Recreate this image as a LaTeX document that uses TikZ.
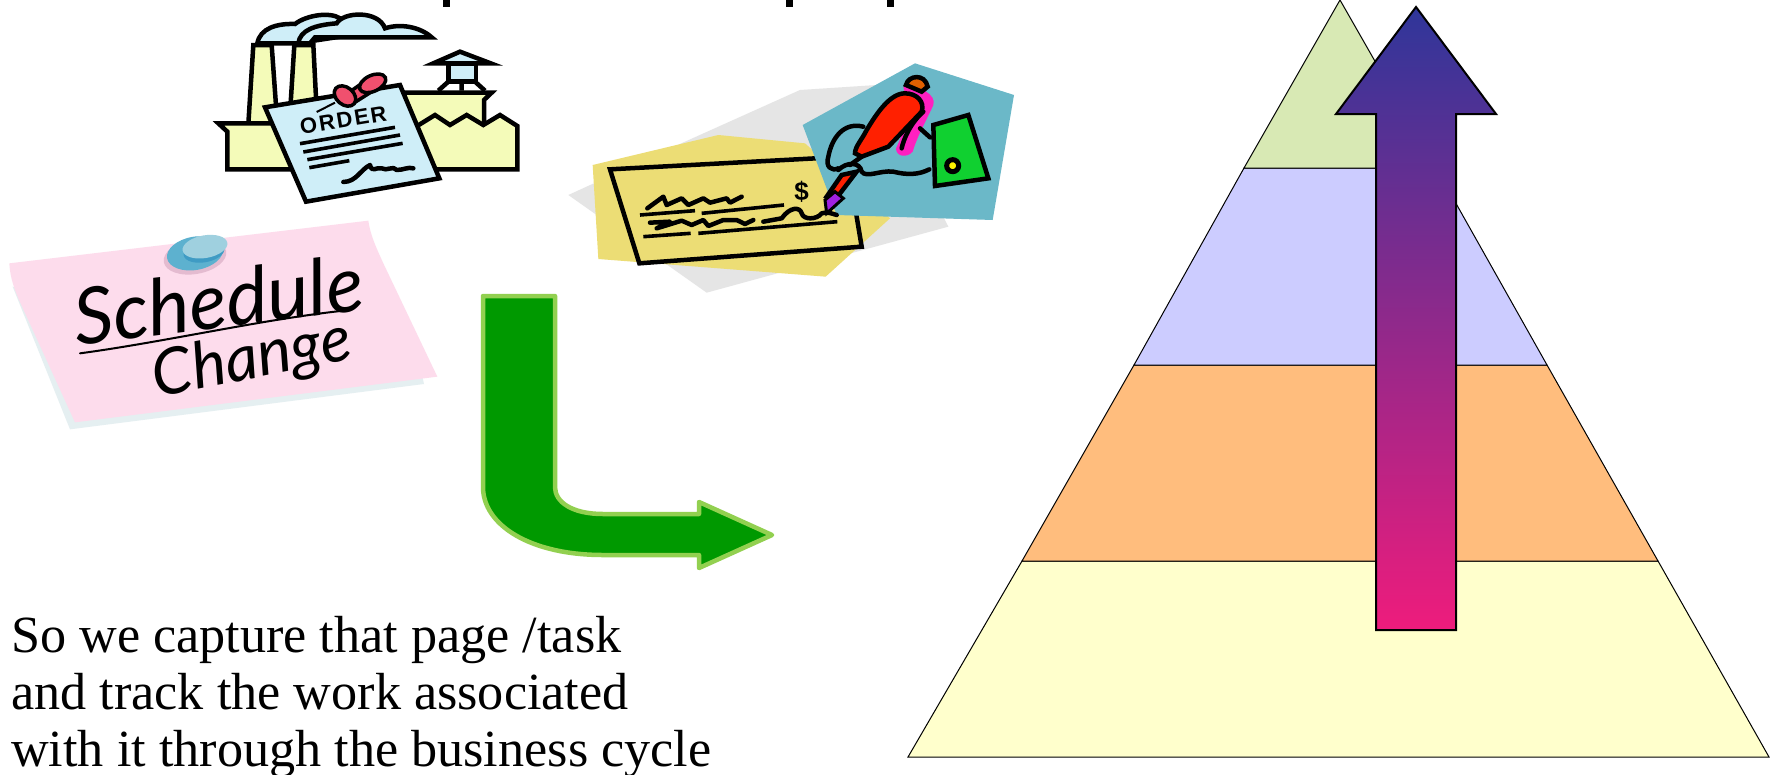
\documentclass[tikz,border=0pt]{standalone}
\usepackage{fontspec}
\setmainfont{Liberation Serif}
\newfontfamily\ordersans[LetterSpace=9]{Liberation Sans}
\newfontfamily\plainsans{Liberation Sans}
\newfontfamily\handfont{Lato}
\definecolor{pyrA}{HTML}{D8E9B4}
\definecolor{pyrB}{HTML}{CCCCFF}
\definecolor{pyrC}{HTML}{FFBD7D}
\definecolor{pyrD}{HTML}{FFFFCC}
\definecolor{arrTop}{HTML}{2F369A}
\definecolor{arrBot}{HTML}{EE1C7C}
\definecolor{grnFill}{HTML}{009900}
\definecolor{grnEdge}{HTML}{92D050}
\definecolor{factY}{HTML}{F4FBB9}
\definecolor{paleB}{HTML}{CFEEF8}
\definecolor{pinR}{HTML}{F0506E}
\definecolor{noteP}{HTML}{FDDCEC}
\definecolor{noteS}{HTML}{E5EFF1}
\definecolor{tackA}{HTML}{5DB1CF}
\definecolor{tackB}{HTML}{9FD0DF}
\definecolor{tackC}{HTML}{3F9BC4}
\definecolor{tackS}{HTML}{E4BBD0}
\definecolor{chkG}{HTML}{E5E5E5}
\definecolor{chkY}{HTML}{ECDD75}
\definecolor{chkT}{HTML}{6BB8C8}
\definecolor{penR}{HTML}{FF2000}
\definecolor{penP}{HTML}{FF20C0}
\definecolor{penO}{HTML}{E06000}
\definecolor{penV}{HTML}{A020E0}
\definecolor{bookG}{HTML}{10D030}
\tikzset{
  pyr/.style={draw=black,line width=1pt,line join=miter},
  bigarrow/.style={top color=arrTop,bottom color=arrBot,draw=black,line width=2pt,line join=miter},
  greenarrow/.style={fill=grnFill,draw=grnEdge,line width=4.5pt,line join=round},
  ink/.style={draw=black,line width=4.5pt,line join=miter},
  inkline/.style={draw=black,line width=3.6pt,line cap=butt},
  squig/.style={draw=black,line width=4.5pt,line join=round,line cap=round},
  body/.style={font=\fontsize{52.2}{57}\selectfont,anchor=base west,inner sep=0pt},
  clip3/.style={x=0.33333pt,y=-0.33333pt}
}
\begin{document}
\begin{tikzpicture}[x=1pt,y=-1pt]
\useasboundingbox (0,0) rectangle (1776,774);
\fill[white] (0,0) rectangle (1776,774);

% fragments of the cut-off title
\fill[black] (443,0) rectangle (450,7);
\fill[black] (786,0) rectangle (793,7);
\fill[black] (887,0) rectangle (894,7);

% pyramid
\path[pyr,fill=pyrD] (1022,561) -- (1658,561) -- (1769,757) -- (908,757) -- cycle;
\path[pyr,fill=pyrC] (1134,365) -- (1547,365) -- (1658,561) -- (1022,561) -- cycle;
\path[pyr,fill=pyrB] (1244,168) -- (1436,168) -- (1547,365) -- (1134,365) -- cycle;
\path[pyr,fill=pyrA] (1340,0) -- (1436,168) -- (1244,168) -- cycle;

% rising arrow
\shade[bigarrow] (1416,7) -- (1496,114) -- (1456,114) -- (1456,630) -- (1376,630) -- (1376,114) -- (1336,114) -- cycle;

% bent green arrow
\path[greenarrow] (483,296) -- (555,296) -- (555,487)
  .. controls (555,502) and (572,514) .. (603,514) -- (699,514) -- (699,502) -- (772,535) -- (699,568) -- (699,555) -- (603,555)
  .. controls (530,555) and (483,525) .. (483,487) -- cycle;

% body text
\node[body] (line1) at (11,652) {So we capture that page /task};
\node[body] (line2) at (11,709) {and track the work associated};
\node[body] (line3) at (11,766) {with it through the business cycle};

% factory with order
\begin{scope}[shift={(200,0)},clip3]
  % smoke
  \path[ink,fill=paleB] (172,130) .. controls (180,85) and (230,70) .. (285,72)
     .. controls (320,45) and (390,35) .. (420,55) -- (420,110) -- (290,130) -- cycle;
  \path[ink,fill=paleB] (295,130) .. controls (300,90) and (345,75) .. (410,70)
     .. controls (430,35) and (535,30) .. (555,85)
     .. controls (600,70) and (660,80) .. (695,112) -- (345,112) -- (330,130) -- cycle;
  % chimneys
  \path[ink,fill=factY] (145,372) -- (160,135) -- (215,135) -- (232,372) -- cycle;
  \path[ink,fill=factY] (268,372) -- (283,135) -- (340,135) -- (352,372) -- cycle;
  % tower
  \path[ink,fill=paleB] (745,190) -- (828,190) -- (828,245) -- (745,245) -- cycle;
  \path[ink,fill=paleB] (700,190) -- (780,155) -- (872,190) -- cycle;
  \draw[ink] (715,272) -- (745,245) (785,245) -- (785,272) (825,245) -- (855,272);
  % back building
  \path[ink,fill=factY] (560,278) -- (875,278) -- (852,300) -- (852,400) -- (560,400) -- cycle;
  % base
  \path[ink,fill=factY] (55,370) -- (300,370) -- (640,385) -- (705,345) -- (750,375) -- (800,345) -- (850,375) -- (900,345) -- (952,378) -- (952,508) -- (82,508) -- (82,395) -- cycle;
  % order sheet
  \path[ink,fill=paleB] (195,322) -- (600,255) -- (718,535) -- (318,605) -- cycle;
  \node[font=\ordersans\bfseries\fontsize{22}{22}\selectfont,rotate=9.4,inner sep=0pt,text=black] (ordertext) at (430,361) {ORDER};
  \draw[inkline] (300,431) -- (585,382);
  \draw[inkline] (310,456) -- (600,405);
  \draw[inkline] (322,479) -- (608,430);
  \draw[inkline] (328,503) -- (448,482);
  \draw[squig] (430,546) .. controls (470,545) and (480,510) .. (510,495)
     .. controls (515,520) and (530,500) .. (545,505) .. controls (560,515) and (580,495) .. (590,510) .. controls (610,510) and (625,500) .. (640,505);
  % pin
  \draw[draw=black,line width=2pt] (350,336) -- (405,308);
  \path[draw=black,line width=3.5pt,fill=pinR] (450,275) -- (500,240) -- (520,272) -- (468,305) -- cycle;
  \path[draw=black,line width=3.5pt,fill=pinR,rotate around={-40:(435,288)}] (435,288) ellipse [x radius=36,y radius=26];
  \path[draw=black,line width=3.5pt,fill=pinR,rotate around={25:(518,250)}] (518,250) ellipse [x radius=42,y radius=24];
\end{scope}

% schedule change note
\begin{scope}[shift={(0,210)},clip3]
  \fill[noteS] (38,230) -- (210,658) -- (1272,522) -- (1265,490) -- cycle;
  \fill[noteP] (28,160) -- (1105,32) .. controls (1112,80) and (1130,115) .. (1150,160) -- (1312,500) -- (225,637) -- (55,265) .. controls (38,225) and (30,195) .. (28,160) -- cycle;
  % tack
  \fill[tackS,rotate around={10:(585,140)}] (585,140) ellipse [x radius=95,y radius=52];
  \fill[tackA,rotate around={10:(585,130)}] (585,130) ellipse [x radius=85,y radius=50];
  \fill[tackC,rotate around={10:(612,125)}] (612,125) ellipse [x radius=62,y radius=32];
  \fill[tackB,rotate around={10:(615,110)}] (615,110) ellipse [x radius=68,y radius=34];
  \node[font=\handfont\itshape\fontsize{78}{78}\selectfont,rotate=7,inner sep=0pt] (schedule) at (655,268) {Schedule};
  \node[font=\handfont\itshape\fontsize{64}{64}\selectfont,rotate=11,inner sep=0pt] (change) at (757,452) {Change};
  \draw[draw=black,line width=2pt,line cap=round] (240,430) .. controls (500,395) and (800,325) .. (1050,300);
\end{scope}

% check and pen
\begin{scope}[shift={(560,50)},clip3]
  \fill[chkG] (25,435) -- (375,275) -- (720,120) -- (950,105) -- (1165,530) -- (440,728) -- cycle;
  \fill[chkY] (98,345) -- (475,255) -- (735,280) -- (990,505) -- (797,680) -- (115,627) -- cycle;
  \path[ink] (150,358) -- (860,320) -- (905,590) -- (238,640) -- cycle;
  \fill[chkT] (728,225) -- (1065,40) -- (1362,135) -- (1298,510) -- (830,495) -- cycle;
  % cheque lines
  \draw[inkline] (240,495) -- (405,482);
  \draw[inkline] (425,490) -- (672,465);
  \draw[inkline] (250,560) -- (392,550);
  \draw[inkline] (415,550) -- (832,515);
  \draw[squig] (262,475) -- (310,440) -- (320,465) -- (365,445) -- (385,465) -- (430,445) -- (450,458) -- (500,445) -- (510,458) -- (545,440);
  \draw[squig] (270,518) -- (330,515) -- (290,535) -- (365,512) -- (395,525) -- (430,510) -- (445,528) -- (490,510) -- (530,510) -- (555,522) -- (580,510);
  \draw[squig] (610,515) -- (665,505) .. controls (690,470) and (720,470) .. (725,490) .. controls (730,510) and (770,510) .. (785,490) .. controls (800,485) and (815,490) .. (830,495);
  \node[font=\plainsans\bfseries\fontsize{26}{26}\selectfont,inner sep=0pt] (dollar) at (725,425) {\$};
  % book
  \path[ink,fill=bookG] (1120,225) -- (1225,195) -- (1285,385) -- (1125,408) -- cycle;
  \draw[draw=black,line width=5pt,fill=yellow] (1178,347) circle [radius=18];
  % pen clip
  \path[draw=none,fill=penP] (1030,110) .. controls (1080,105) and (1130,135) .. (1120,165) .. controls (1100,210) and (1075,250) .. (1058,305) .. controls (1040,325) and (1008,320) .. (1008,295) .. controls (1030,250) and (1050,190) .. (1030,110) -- cycle;
  % cap
  \path[ink,fill=penO] (1038,105) .. controls (1045,75) and (1095,70) .. (1103,110) -- (1085,125) -- cycle;
  % pen body
  \path[ink,fill=penR] (1035,130) .. controls (1070,130) and (1095,155) .. (1085,185) -- (985,290) -- (905,320) -- (885,310) .. controls (885,290) and (905,270) .. (920,240) .. controls (950,190) and (990,130) .. (1035,130) -- cycle;
  \draw[ink,line cap=round] (1090,185) .. controls (1050,220) and (1030,270) .. (1025,295);
  % lower barrel and nib
  \path[ink,fill=penR] (845,375) -- (890,365) -- (825,450) -- (800,440) -- cycle;
  \path[draw=black,line width=3pt,fill=penV] (825,425) -- (850,445) -- (800,490) -- (795,450) -- cycle;
  % hand
  \draw[ink,line cap=round,line join=round] (910,230) .. controls (850,215) and (815,265) .. (805,320) .. controls (795,350) and (815,365) .. (835,355);
  \draw[ink,line cap=round,line join=round] (835,360) .. controls (860,335) and (900,335) .. (905,365) .. controls (920,385) and (960,360) .. (1000,365) .. controls (1040,375) and (1075,375) .. (1108,358);
  \draw[ink,line cap=round] (870,345) -- (905,320);
  \draw[ink,line cap=round] (1080,235) -- (1110,262);
\end{scope}
\end{tikzpicture}
\end{document}
